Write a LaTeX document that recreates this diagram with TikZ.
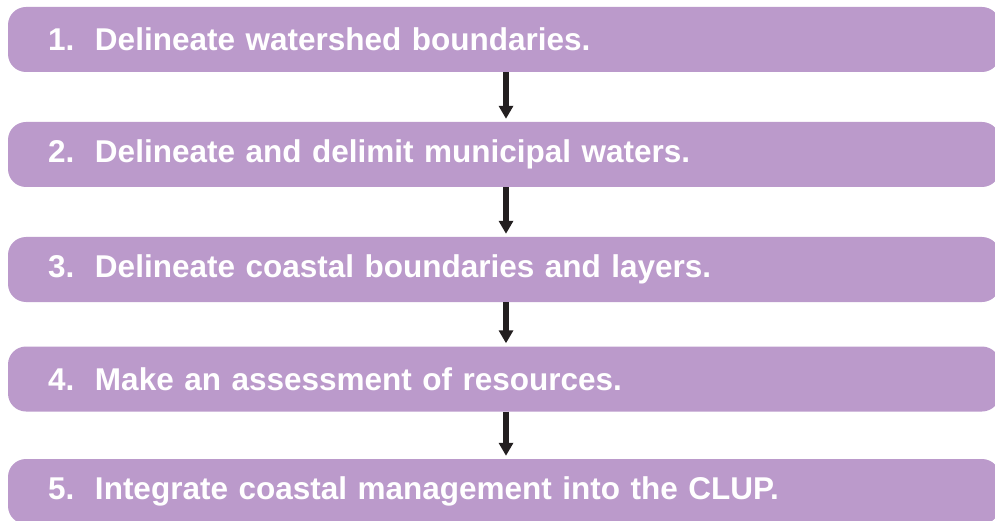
\documentclass[tikz,border=0pt]{standalone}
\usepackage{fontspec}
\setmainfont{Liberation Sans}
\usetikzlibrary{arrows.meta}
\definecolor{stepviolet}{HTML}{BB9ACB}
\definecolor{arrowink}{HTML}{231F20}
\newcommand{\stepnum}[1]{\makebox[47pt][l]{#1}}

\begin{document}
\begin{tikzpicture}[x=1pt, y=1pt,
  stepbox/.style={rectangle, rounded corners=18pt, fill=stepviolet,
                  text width=912pt, inner xsep=40pt, inner ysep=0pt,
                  minimum height=65pt, align=left, text=white,
                  font=\fontsize{31.5}{34}\selectfont\bfseries},
  arr/.style={-{Triangle[length=13pt,width=14pt]}, line width=6pt,
              draw=arrowink, shorten >=3pt}
]
\useasboundingbox (0,0) rectangle (995,-521);
\clip (0,0) rectangle (995,-521);

%% ── steps ───────────────────────────────────────────────────────────────
\node[stepbox] (s1) at (504, -39.5) {\stepnum{1.}Delineate watershed boundaries.};
\node[stepbox] (s2) at (504,-154.5) {\stepnum{2.}Delineate and delimit municipal waters.};
\node[stepbox] (s3) at (504,-269.5) {\stepnum{3.}Delineate coastal boundaries and layers.};
\node[stepbox] (s4) at (504,-379)   {\stepnum{4.}Make an assessment of resources.};
\node[stepbox] (s5) at (504,-491.5) {\stepnum{5.}Integrate coastal management into the CLUP.};

%% ── arrows ──────────────────────────────────────────────────────────────
\coordinate (ax) at (506,0);
\draw[arr] (s1.south -| ax) -- (s2.north -| ax);
\draw[arr] (s2.south -| ax) -- (s3.north -| ax);
\draw[arr] (s3.south -| ax) -- (s4.north -| ax);
\draw[arr] (s4.south -| ax) -- (s5.north -| ax);

\end{tikzpicture}
\end{document}
